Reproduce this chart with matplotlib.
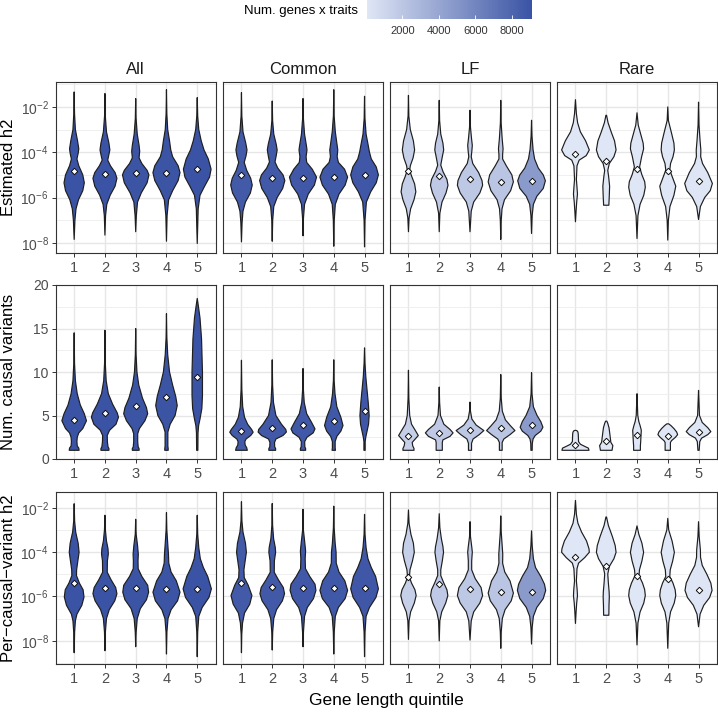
import numpy as np
import matplotlib
matplotlib.use('Agg')
import matplotlib.pyplot as plt
from matplotlib.colors import LinearSegmentedColormap, Normalize
from matplotlib.cm import ScalarMappable
from matplotlib.ticker import FixedLocator, FuncFormatter

plt.rcParams['font.family'] = ['Liberation Sans', 'DejaVu Sans']
plt.rcParams['mathtext.fontset'] = 'custom'
plt.rcParams['mathtext.rm'] = 'Liberation Sans'
plt.rcParams['mathtext.default'] = 'regular'

quintiles = [1, 2, 3, 4, 5]
groups = ['All', 'Common', 'LF', 'Rare']
row_titles = ['Estimated h2', 'Num. causal variants', 'Per\u2212causal\u2212variant h2']

# number of gene x trait pairs per group / quintile (fill colour)
n_all = [9100, 9080, 9060, 9050, 9070]
n_common = [8650, 8700, 8750, 8800, 8850]
n_lf = [1500, 1850, 1900, 2100, 4700]
n_rare = [60, 70, 90, 80, 140]

# violin outlines: (value, half width) read top -> bottom; log rows hold log10 values
h2_all = [
    [(-1.34,0),(-2.3,0.012),(-3.0,0.04),(-3.5,0.11),(-3.85,0.15),(-4.05,0.13),(-4.3,0.09),(-4.6,0.15),(-5.0,0.28),(-5.35,0.33),(-5.7,0.28),(-6.1,0.14),(-6.5,0.06),(-7.0,0.025),(-7.85,0)],
    [(-1.41,0),(-2.4,0.012),(-3.1,0.05),(-3.6,0.13),(-3.9,0.16),(-4.1,0.13),(-4.35,0.09),(-4.6,0.18),(-4.9,0.33),(-5.15,0.39),(-5.5,0.33),(-5.9,0.17),(-6.3,0.06),(-6.8,0.02),(-7.66,0)],
    [(-1.63,0),(-2.5,0.012),(-3.2,0.05),(-3.7,0.11),(-3.95,0.13),(-4.25,0.11),(-4.5,0.2),(-4.8,0.37),(-5.0,0.43),(-5.35,0.37),(-5.8,0.18),(-6.2,0.06),(-6.8,0.02),(-7.51,0)],
    [(-1.24,0),(-2.3,0.012),(-3.0,0.04),(-3.5,0.1),(-3.9,0.14),(-4.2,0.2),(-4.6,0.38),(-4.9,0.44),(-5.25,0.38),(-5.7,0.2),(-6.1,0.07),(-6.8,0.02),(-7.93,0)],
    [(-1.59,0),(-2.4,0.015),(-3.0,0.05),(-3.5,0.13),(-3.9,0.22),(-4.3,0.36),(-4.75,0.45),(-5.1,0.4),(-5.5,0.24),(-5.9,0.09),(-6.5,0.03),(-8.03,0)],
]
h2_common = [
    [(-1.37,0),(-2.4,0.012),(-3.1,0.05),(-3.6,0.14),(-3.9,0.18),(-4.15,0.15),(-4.45,0.09),(-4.8,0.17),(-5.15,0.3),(-5.45,0.35),(-5.8,0.29),(-6.2,0.13),(-6.6,0.05),(-7.1,0.02),(-7.96,0)],
    [(-1.74,0),(-2.6,0.012),(-3.2,0.05),(-3.65,0.13),(-3.9,0.16),(-4.15,0.13),(-4.43,0.09),(-4.7,0.18),(-5.0,0.35),(-5.25,0.41),(-5.6,0.34),(-6.0,0.16),(-6.4,0.05),(-7.0,0.015),(-7.93,0)],
    [(-1.63,0),(-2.5,0.012),(-3.2,0.05),(-3.7,0.11),(-3.9,0.13),(-4.2,0.1),(-4.45,0.12),(-4.75,0.3),(-5.1,0.44),(-5.45,0.37),(-5.85,0.17),(-6.3,0.05),(-6.9,0.015),(-7.69,0)],
    [(-1.24,0),(-2.4,0.012),(-3.1,0.05),(-3.6,0.1),(-3.9,0.13),(-4.2,0.11),(-4.45,0.15),(-4.75,0.35),(-5.1,0.45),(-5.45,0.37),(-5.85,0.17),(-6.3,0.05),(-7.0,0.015),(-8.15,0)],
    [(-1.53,0),(-2.5,0.012),(-3.2,0.05),(-3.7,0.12),(-4.0,0.16),(-4.3,0.22),(-4.65,0.38),(-5.0,0.45),(-5.35,0.38),(-5.75,0.2),(-6.2,0.06),(-7.0,0.015),(-8.18,0)],
]
h2_lf = [
    [(-1.49,0),(-2.4,0.012),(-3.0,0.06),(-3.5,0.16),(-3.9,0.2),(-4.25,0.15),(-4.6,0.06),(-4.8,0.04),(-5.05,0.1),(-5.4,0.2),(-5.75,0.24),(-6.1,0.18),(-6.5,0.07),(-6.9,0.02),(-7.51,0)],
    [(-1.71,0),(-2.6,0.012),(-3.2,0.05),(-3.6,0.12),(-3.9,0.145),(-4.2,0.1),(-4.57,0.05),(-4.85,0.12),(-5.2,0.25),(-5.46,0.285),(-5.8,0.22),(-6.2,0.09),(-6.7,0.02),(-7.51,0)],
    [(-2.15,0),(-2.9,0.015),(-3.4,0.05),(-3.7,0.075),(-3.95,0.06),(-4.2,0.04),(-4.5,0.09),(-4.9,0.28),(-5.25,0.39),(-5.46,0.41),(-5.8,0.32),(-6.2,0.12),(-6.6,0.04),(-7.51,0)],
    [(-1.71,0),(-2.7,0.012),(-3.4,0.045),(-3.85,0.075),(-4.1,0.06),(-4.3,0.06),(-4.6,0.18),(-5.0,0.36),(-5.31,0.41),(-5.7,0.32),(-6.1,0.12),(-6.5,0.04),(-7.0,0.015),(-7.85,0)],
    [(-2.59,0),(-3.3,0.015),(-3.9,0.05),(-4.3,0.1),(-4.7,0.22),(-5.0,0.38),(-5.26,0.45),(-5.6,0.38),(-5.95,0.17),(-6.3,0.06),(-6.8,0.02),(-7.59,0)],
]
h2_rare = [
    [(-1.68,0),(-2.3,0.03),(-2.7,0.07),(-3.1,0.16),(-3.5,0.33),(-3.9,0.45),(-4.15,0.35),(-4.35,0.12),(-4.6,0.05),(-5.2,0.03),(-5.55,0.05),(-5.85,0.065),(-6.2,0.04),(-6.6,0.02),(-7.07,0)],
    [(-2.37,0.01),(-2.7,0.06),(-3.1,0.16),(-3.5,0.27),(-3.9,0.32),(-4.2,0.25),(-4.5,0.1),(-4.8,0.05),(-5.1,0.08),(-5.5,0.11),(-5.9,0.1),(-6.34,0.085)],
    [(-2.26,0),(-2.8,0.04),(-3.3,0.14),(-3.6,0.2),(-3.85,0.215),(-4.2,0.15),(-4.65,0.085),(-5.0,0.16),(-5.3,0.25),(-5.55,0.27),(-5.9,0.22),(-6.3,0.1),(-6.8,0.03),(-7.81,0)],
    [(-2.0,0),(-2.6,0.02),(-3.2,0.13),(-3.6,0.2),(-3.9,0.215),(-4.2,0.17),(-4.5,0.09),(-4.79,0.065),(-5.1,0.15),(-5.5,0.26),(-5.9,0.2),(-6.4,0.07),(-7.0,0.02),(-7.88,0)],
    [(-1.79,0),(-2.8,0.015),(-3.5,0.05),(-3.9,0.075),(-4.2,0.07),(-4.5,0.13),(-4.9,0.3),(-5.38,0.45),(-5.7,0.38),(-6.0,0.2),(-6.4,0.06),(-6.97,0)],
]
h2_all_mean = [-4.82, -4.94, -4.93, -4.90, -4.76]
h2_common_mean = [-4.99, -5.12, -5.12, -5.09, -4.99]
h2_lf_mean = [-4.84, -5.04, -5.19, -5.32, -5.29]
h2_rare_mean = [-4.09, -4.38, -4.75, -4.85, -5.28]

ncv_all = [
    [(14.5,0),(11,0.012),(9,0.04),(7.5,0.1),(6.2,0.2),(5.2,0.33),(4.4,0.4),(3.5,0.28),(3.0,0.15),(2.5,0.1),(2.0,0.09),(1.5,0.1),(1.25,0.15),(1.0,0.16)],
    [(14.8,0),(11,0.012),(9,0.04),(7.5,0.11),(6.3,0.25),(5.3,0.4),(4.8,0.44),(4.0,0.36),(3.3,0.15),(2.7,0.075),(2.0,0.08),(1.4,0.1),(1.2,0.13),(1.0,0.13)],
    [(15.0,0),(12,0.012),(10,0.04),(8.5,0.1),(7.0,0.22),(5.9,0.35),(5.2,0.39),(4.4,0.3),(3.5,0.12),(2.9,0.065),(2.0,0.065),(1.4,0.08),(1.2,0.11),(1.0,0.11)],
    [(16.7,0),(14,0.012),(12,0.04),(10,0.1),(8.5,0.2),(7.2,0.3),(6.15,0.35),(5.0,0.28),(4.0,0.12),(3.1,0.045),(1.5,0.045),(1.2,0.055),(1.0,0.055)],
    [(18.46,0),(17.5,0.04),(16.2,0.09),(13.8,0.14),(10.0,0.17),(7.3,0.17),(5.8,0.15),(4.6,0.09),(3.85,0.045),(3.0,0.025),(1.0,0.02)],
]
ncv_common = [
    [(11.35,0),(8,0.012),(6,0.04),(4.8,0.1),(4.0,0.2),(3.4,0.33),(3.08,0.38),(2.7,0.3),(2.3,0.15),(2.0,0.11),(1.6,0.12),(1.3,0.17),(1.0,0.19)],
    [(11.4,0),(8.5,0.012),(6.5,0.04),(5.0,0.12),(4.0,0.3),(3.4,0.44),(3.1,0.46),(2.7,0.35),(2.3,0.12),(1.9,0.075),(1.4,0.08),(1.2,0.11),(1.0,0.11)],
    [(10.4,0),(8,0.012),(6.5,0.04),(5.2,0.12),(4.2,0.28),(3.46,0.39),(3.0,0.33),(2.5,0.13),(2.0,0.055),(1.4,0.06),(1.2,0.085),(1.0,0.085)],
    [(11.4,0),(9,0.012),(7.5,0.04),(6,0.1),(4.8,0.23),(3.85,0.3),(3.2,0.23),(2.6,0.1),(2.0,0.045),(1.3,0.045),(1.0,0.055)],
    [(12.77,0),(11,0.015),(9.5,0.04),(8,0.08),(6.5,0.12),(5.0,0.15),(4.0,0.13),(3.0,0.07),(2.5,0.04),(2.0,0.02),(1.0,0.02)],
]
ncv_lf = [
    [(10.2,0),(7,0.012),(5,0.04),(4,0.1),(3.3,0.22),(2.7,0.32),(2.3,0.22),(1.9,0.12),(1.5,0.14),(1.2,0.18),(1.0,0.18)],
    [(8.27,0),(6.5,0.012),(5,0.04),(4.0,0.15),(3.4,0.35),(3.0,0.45),(2.6,0.35),(2.2,0.12),(1.9,0.1),(1.0,0.1)],
    [(6.54,0),(5.5,0.015),(4.6,0.06),(3.9,0.2),(3.27,0.45),(2.8,0.3),(2.3,0.1),(1.8,0.05),(1.0,0.05)],
    [(9.7,0),(7,0.015),(5.5,0.05),(4.5,0.15),(3.8,0.32),(3.27,0.46),(2.8,0.3),(2.3,0.1),(1.9,0.045),(1.0,0.045)],
    [(9.92,0),(7.5,0.015),(6,0.06),(5.0,0.18),(4.3,0.3),(3.65,0.37),(3.2,0.3),(2.7,0.12),(2.3,0.05),(1.8,0.025),(1.0,0.02)],
]
ncv_rare = [
    [(3.3,0),(3.25,0.05),(3.1,0.08),(2.9,0.09),(2.5,0.095),(2.0,0.1),(1.7,0.16),(1.45,0.3),(1.25,0.42),(1.0,0.44)],
    [(4.35,0.02),(4.1,0.05),(3.6,0.09),(3.08,0.11),(2.5,0.13),(1.92,0.15),(1.54,0.215),(1.25,0.2),(1.0,0.19)],
    [(7.5,0),(6,0.015),(5,0.025),(4.3,0.06),(3.85,0.1),(3.3,0.14),(2.7,0.13),(2.0,0.12),(1.5,0.11),(1.0,0.11)],
    [(4.04,0.03),(3.85,0.1),(3.5,0.2),(3.1,0.29),(2.8,0.32),(2.5,0.25),(2.1,0.12),(1.9,0.086),(1.0,0.086)],
    [(7.88,0),(6.5,0.015),(5,0.03),(4.2,0.12),(3.6,0.3),(3.15,0.4),(2.8,0.3),(2.4,0.1),(2.0,0.04),(1.0,0.02)],
]
ncv_all_mean = [4.54, 5.27, 6.08, 7.08, 9.42]
ncv_common_mean = [3.27, 3.54, 3.92, 4.35, 5.46]
ncv_lf_mean = [2.65, 3.0, 3.35, 3.62, 3.88]
ncv_rare_mean = [1.62, 2.04, 2.77, 2.65, 3.15]

pcv_all = [
    [(-1.82,0),(-2.6,0.015),(-3.1,0.05),(-3.6,0.13),(-4.01,0.16),(-4.4,0.12),(-4.8,0.08),(-5.06,0.075),(-5.4,0.17),(-5.7,0.29),(-6.03,0.32),(-6.4,0.25),(-6.8,0.09),(-7.1,0.04),(-7.6,0.015),(-8.54,0)],
    [(-2.34,0),(-3.0,0.015),(-3.5,0.05),(-3.85,0.1),(-4.09,0.11),(-4.4,0.08),(-4.91,0.075),(-5.25,0.2),(-5.6,0.35),(-5.88,0.39),(-6.2,0.32),(-6.6,0.14),(-7.0,0.05),(-7.6,0.015),(-8.45,0)],
    [(-2.52,0),(-3.2,0.015),(-3.7,0.06),(-4.1,0.085),(-4.4,0.075),(-4.75,0.08),(-5.1,0.2),(-5.5,0.39),(-5.81,0.42),(-6.15,0.35),(-6.55,0.15),(-7.0,0.05),(-7.6,0.015),(-8.27,0)],
    [(-2.22,0),(-3.0,0.012),(-3.6,0.04),(-4.1,0.065),(-4.5,0.075),(-4.9,0.15),(-5.3,0.32),(-5.81,0.44),(-6.2,0.36),(-6.6,0.15),(-7.0,0.05),(-7.6,0.015),(-8.6,0)],
    [(-2.34,0),(-3.2,0.015),(-3.8,0.05),(-4.3,0.1),(-4.7,0.2),(-5.1,0.34),(-5.66,0.46),(-6.05,0.38),(-6.5,0.16),(-6.9,0.05),(-7.6,0.015),(-8.72,0)],
]
pcv_common = [
    [(-1.73,0),(-2.6,0.015),(-3.1,0.05),(-3.6,0.13),(-4.01,0.16),(-4.4,0.12),(-4.8,0.08),(-5.15,0.09),(-5.5,0.22),(-5.96,0.34),(-6.35,0.27),(-6.75,0.1),(-7.2,0.035),(-7.7,0.01),(-8.54,0)],
    [(-1.81,0),(-2.8,0.012),(-3.4,0.045),(-3.8,0.1),(-4.01,0.11),(-4.4,0.07),(-4.91,0.065),(-5.25,0.2),(-5.6,0.36),(-5.88,0.4),(-6.2,0.33),(-6.6,0.14),(-7.0,0.05),(-7.6,0.015),(-8.42,0)],
    [(-2.07,0),(-3.0,0.012),(-3.6,0.06),(-3.95,0.085),(-4.3,0.07),(-4.75,0.08),(-5.1,0.22),(-5.45,0.39),(-5.73,0.42),(-6.1,0.34),(-6.5,0.14),(-6.9,0.05),(-7.6,0.015),(-8.27,0)],
    [(-1.93,0),(-2.9,0.012),(-3.6,0.045),(-4.0,0.075),(-4.5,0.08),(-4.9,0.17),(-5.3,0.36),(-5.73,0.45),(-6.1,0.37),(-6.5,0.15),(-6.9,0.05),(-7.6,0.015),(-8.6,0)],
    [(-2.3,0),(-3.2,0.015),(-3.8,0.05),(-4.3,0.11),(-4.7,0.22),(-5.1,0.36),(-5.66,0.45),(-6.05,0.37),(-6.5,0.16),(-6.9,0.05),(-7.6,0.015),(-8.72,0)],
]
pcv_lf = [
    [(-2.1,0),(-2.7,0.02),(-3.2,0.08),(-3.6,0.16),(-4.01,0.19),(-4.4,0.13),(-4.8,0.05),(-5.13,0.03),(-5.4,0.1),(-5.7,0.21),(-5.96,0.25),(-6.3,0.19),(-6.7,0.07),(-7.1,0.02),(-7.94,0)],
    [(-2.27,0),(-2.9,0.02),(-3.4,0.07),(-3.75,0.12),(-4.01,0.14),(-4.4,0.1),(-4.8,0.05),(-5.06,0.05),(-5.4,0.15),(-5.7,0.25),(-5.96,0.28),(-6.3,0.21),(-6.7,0.08),(-7.1,0.02),(-8.01,0)],
    [(-2.63,0),(-3.3,0.015),(-3.8,0.06),(-4.0,0.075),(-4.4,0.055),(-4.8,0.055),(-5.2,0.17),(-5.6,0.36),(-5.96,0.41),(-6.3,0.32),(-6.7,0.12),(-7.1,0.04),(-7.97,0)],
    [(-2.37,0),(-3.1,0.015),(-3.7,0.045),(-4.1,0.065),(-4.5,0.06),(-4.9,0.13),(-5.3,0.3),(-5.85,0.41),(-6.2,0.34),(-6.6,0.14),(-7.0,0.05),(-7.6,0.015),(-8.34,0)],
    [(-3.04,0),(-3.7,0.02),(-4.3,0.06),(-4.7,0.13),(-5.1,0.3),(-5.45,0.42),(-5.73,0.46),(-6.1,0.38),(-6.5,0.17),(-6.9,0.06),(-7.4,0.02),(-8.15,0)],
]
pcv_rare = [
    [(-1.67,0),(-2.3,0.03),(-2.7,0.08),(-3.1,0.2),(-3.5,0.36),(-3.85,0.44),(-4.01,0.45),(-4.25,0.3),(-4.5,0.1),(-4.75,0.05),(-5.3,0.03),(-5.7,0.055),(-5.96,0.065),(-6.3,0.04),(-6.7,0.02),(-7.22,0)],
    [(-2.42,0.01),(-2.8,0.07),(-3.3,0.2),(-3.7,0.29),(-4.01,0.32),(-4.3,0.25),(-4.65,0.1),(-4.99,0.05),(-5.4,0.07),(-5.8,0.095),(-6.03,0.1),(-6.4,0.09),(-6.85,0.085)],
    [(-2.82,0),(-3.2,0.06),(-3.6,0.16),(-4.01,0.215),(-4.4,0.16),(-4.8,0.08),(-5.06,0.065),(-5.4,0.18),(-5.7,0.25),(-5.96,0.27),(-6.3,0.22),(-6.7,0.1),(-7.2,0.03),(-8.19,0)],
    [(-2.48,0),(-3.0,0.03),(-3.5,0.14),(-4.01,0.215),(-4.4,0.16),(-4.8,0.08),(-5.1,0.065),(-5.4,0.17),(-5.7,0.24),(-5.96,0.26),(-6.3,0.21),(-6.7,0.09),(-7.2,0.03),(-8.34,0)],
    [(-2.63,0),(-3.3,0.02),(-3.9,0.06),(-4.24,0.065),(-4.6,0.12),(-5.0,0.27),(-5.4,0.4),(-5.73,0.44),(-6.05,0.36),(-6.4,0.17),(-6.8,0.05),(-7.37,0)],
]
pcv_all_mean = [-5.39, -5.60, -5.63, -5.66, -5.66]
pcv_common_mean = [-5.40, -5.58, -5.61, -5.63, -5.63]
pcv_lf_mean = [-5.13, -5.46, -5.67, -5.82, -5.82]
pcv_rare_mean = [-4.21, -4.63, -5.09, -5.21, -5.70]

counts = [n_all, n_common, n_lf, n_rare]
profiles = [[h2_all, h2_common, h2_lf, h2_rare],
            [ncv_all, ncv_common, ncv_lf, ncv_rare],
            [pcv_all, pcv_common, pcv_lf, pcv_rare]]
means = [[h2_all_mean, h2_common_mean, h2_lf_mean, h2_rare_mean],
         [ncv_all_mean, ncv_common_mean, ncv_lf_mean, ncv_rare_mean],
         [pcv_all_mean, pcv_common_mean, pcv_lf_mean, pcv_rare_mean]]
is_log = [True, False, True]
ylims = [(10**-8.45, 10**-0.9), (0, 20), (10**-9.05, 10**-1.29)]

all_counts = [c for grp in counts for c in grp]
cmap = LinearSegmentedColormap.from_list('fillblue', ['#dfe6f5', '#3a53a4'])
norm = Normalize(vmin=min(all_counts), vmax=max(all_counts))

W, H = 718, 712
fig = plt.figure(figsize=(W / 100, H / 100), dpi=100)
col_x = [55.7, 223, 390, 557]
col_w = 160
row_y = [(82, 253), (285, 459), (492, 664)]

log_fmt = FuncFormatter(lambda v, p: r'$10^{%d}$' % int(round(np.log10(v))))

for r in range(3):
    y0, y1 = row_y[r]
    for c in range(4):
        ax = fig.add_axes([col_x[c] / W, 1 - y1 / H, col_w / W, (y1 - y0) / H])
        if is_log[r]:
            ax.set_yscale('log')
            ax.yaxis.set_major_locator(FixedLocator([1e-8, 1e-6, 1e-4, 1e-2]))
            ax.yaxis.set_minor_locator(FixedLocator([1e-9, 1e-7, 1e-5, 1e-3, 1e-1]))
            ax.yaxis.set_major_formatter(log_fmt)
        else:
            ax.yaxis.set_major_locator(FixedLocator([0, 5, 10, 15, 20]))
            ax.yaxis.set_minor_locator(FixedLocator([2.5, 7.5, 12.5, 17.5]))
        ax.set_ylim(*ylims[r])
        ax.set_xlim(0.4, 5.6)
        ax.set_xticks(quintiles)
        ax.set_xticklabels([str(q) for q in quintiles])
        ax.yaxis.set_minor_formatter(plt.NullFormatter())
        ax.grid(True, which='major', color='#e6e6e6', lw=1.0, zorder=0)
        ax.grid(True, which='minor', axis='y', color='#ededed', lw=0.6, zorder=0)
        ax.set_axisbelow(True)
        for s in ax.spines.values():
            s.set_color('#333333')
            s.set_linewidth(0.8)
        ax.tick_params(which='major', length=3, width=0.7, color='#333333',
                       labelsize=10.5, labelcolor='#4d4d4d', pad=2.5)
        ax.tick_params(axis='y', which='major', labelsize=10, pad=2)
        ax.tick_params(which='minor', length=0)
        if c > 0:
            ax.tick_params(axis='y', which='major', length=0, labelleft=False)

        for i, q in enumerate(quintiles):
            prof = profiles[r][c][i]
            v = np.array([p[0] for p in prof])
            w = np.array([p[1] for p in prof])
            yy = 10 ** v if is_log[r] else v
            xs = np.concatenate([q - w, (q + w)[::-1]])
            ys = np.concatenate([yy, yy[::-1]])
            ax.fill(xs, ys, facecolor=cmap(norm(counts[c][i])), edgecolor='#1e1e1e',
                    lw=0.85, joinstyle='round', zorder=3)
            m = means[r][c][i]
            ax.plot(q, 10 ** m if is_log[r] else m, marker='D', ms=3.3, mfc='white',
                    mec='#111111', mew=0.7, zorder=4)

        if r == 0:
            ax.set_title(groups[c], fontsize=12, color='#1a1a1a', pad=6)

    fig.text(9 / W, 1 - (y0 + y1) / 2 / H, row_titles[r], rotation=90,
             ha='center', va='center', fontsize=12, color='black')

fig.text(386 / W, 1 - 700 / H, 'Gene length quintile', ha='center', va='center',
         fontsize=12.5, color='black')

# colour bar legend on top
cax = fig.add_axes([367 / W, 1 - 19 / H, 165 / W, 19 / H])
cb = fig.colorbar(ScalarMappable(norm=norm, cmap=cmap), cax=cax, orientation='horizontal')
cb.outline.set_visible(False)
cb.set_ticks([2000, 4000, 6000, 8000])
cax.tick_params(axis='x', direction='in', length=3, width=0.6, color='white',
                labelsize=8, labelcolor='#333333', pad=5)
fig.text(358 / W, 1 - 11 / H, 'Num. genes x traits', ha='right', va='center',
         fontsize=9.5, color='black')

fig.savefig('out.png', dpi=100)
